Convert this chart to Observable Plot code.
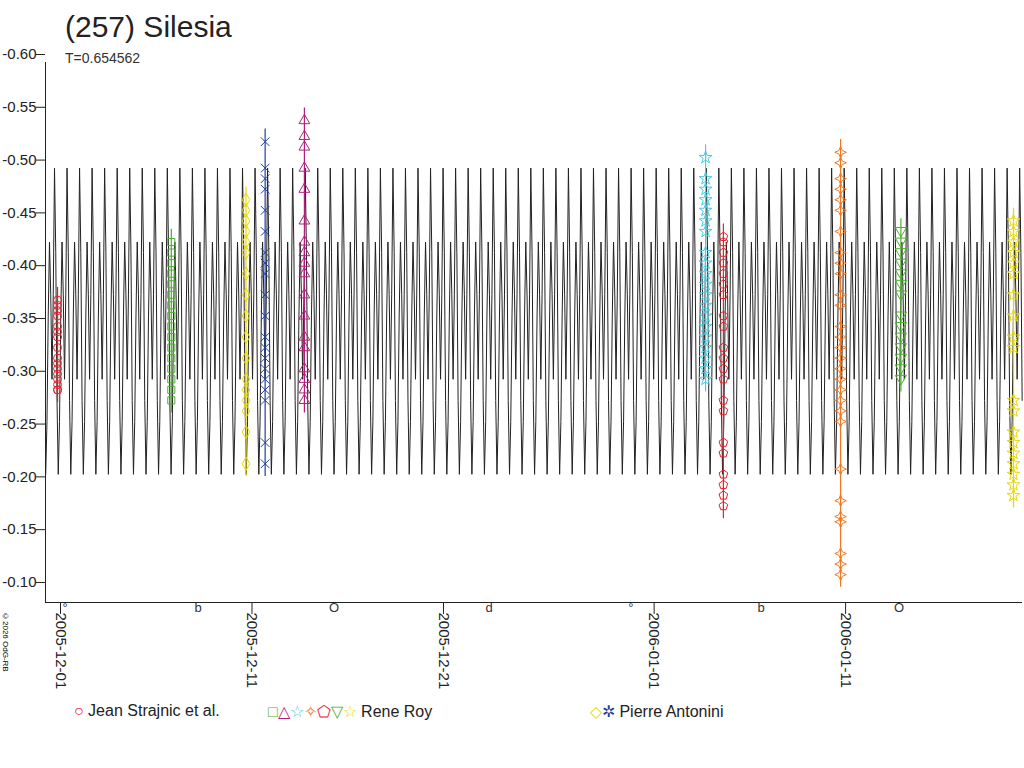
<!DOCTYPE html>
<html><head><meta charset="utf-8">
<script src="https://cdn.jsdelivr.net/npm/d3@7"></script>
<script src="https://cdn.jsdelivr.net/npm/@observablehq/plot@0.6"></script>
<style>
body{margin:0;background:#fff;font-family:"Liberation Sans",Arial,sans-serif;}
#wrap{position:relative;width:1024px;height:768px;}
#title{position:absolute;left:65px;top:10px;font-size:30px;color:#222;}
#sub{position:absolute;left:65px;top:50px;font-size:14px;color:#333;}
#legend{position:absolute;left:0;top:702px;font-size:16px;color:#222;width:1024px;}
#legend span.it{position:absolute;top:0;white-space:nowrap;}
#copy{position:absolute;left:1px;top:612px;writing-mode:vertical-rl;font-size:8px;color:#000;}
</style></head><body>
<div id="wrap"><div id="chart"></div>
<div id="title">(257) Silesia</div><div id="sub">T=0.654562</div>
<div id="copy">©2026 OdG-RB</div>
<div id="legend">
<span class="it" style="left:74px"><span style="color:#e8202a">○</span> Jean Strajnic et al.</span>
<span class="it" style="left:268px"><span style="color:#4caf2f">□</span><span style="color:#b0207a">△</span><span style="color:#50c8e0">☆</span><span style="color:#f07820">✧</span><span style="color:#e8202a">⬠</span><span style="color:#4caf2f">▽</span><span style="color:#e8d800">☆</span> Rene Roy</span>
<span class="it" style="left:590px"><span style="color:#e8d800">◇</span><span style="color:#2040a0">✲</span> Pierre Antonini</span>
</div></div>
<script>
const start = new Date("2005-12-01T00:00:00Z");
const period = 0.654562; // days
// one-period model light-curve profile
const profile = [-0.50,-0.42,-0.28,-0.21,-0.26,-0.36,-0.43,-0.38,-0.30,-0.38,-0.50];
const xStart = -0.47, xEnd = 50.55;
const yTicks = [-0.60,-0.55,-0.50,-0.45,-0.40,-0.35,-0.30,-0.25,-0.20,-0.15,-0.10];
const xTicks = ["2005-12-01","2005-12-11","2005-12-21","2006-01-01","2006-01-11"];
const moonDays = [0.55,7.5,14.6,22.7,30.1,36.9,44.1];
const moonGlyphs = ["°","b","O","d","°","b","O"];

const seriesNames = ["jean","rr_sq","pa_dia","pa_x","rr_tri","rr_star","rr_pent","rr_4star","rr_dtri","rr_ystar"];
const seriesDays = [0.16,6.1,10.0,11.0,13.05,34.0,34.93,41.05,44.2,50.08];
const seriesColors = ["#e8202a","#4caf2f","#e8d800","#2040a0","#b0207a","#50c8e0","#e8202a","#f07820","#4caf2f","#e8d800"];
const seriesSymbols = ["circle","square","diamond","times","triangle","star","pentagon","star4","dtri","star"];
const seriesMags = [
 [-0.375,-0.37,-0.365,-0.36,-0.35,-0.345,-0.34,-0.33,-0.32,-0.315,-0.31,-0.305,-0.30,-0.295,-0.29,-0.29],
 [-0.43,-0.42,-0.41,-0.40,-0.39,-0.38,-0.37,-0.36,-0.35,-0.34,-0.33,-0.32,-0.31,-0.30,-0.29,-0.28],
 [-0.47,-0.46,-0.45,-0.44,-0.43,-0.42,-0.40,-0.38,-0.36,-0.34,-0.32,-0.30,-0.29,-0.28,-0.27,-0.25,-0.22],
 [-0.525,-0.50,-0.49,-0.48,-0.46,-0.44,-0.42,-0.41,-0.40,-0.38,-0.36,-0.34,-0.33,-0.32,-0.31,-0.30,-0.29,-0.28,-0.24,-0.22],
 [-0.545,-0.53,-0.52,-0.50,-0.48,-0.45,-0.43,-0.42,-0.41,-0.40,-0.38,-0.36,-0.34,-0.33,-0.31,-0.30,-0.29,-0.28],
 [-0.51,-0.49,-0.48,-0.47,-0.46,-0.45,-0.44,-0.42,-0.41,-0.40,-0.39,-0.38,-0.37,-0.36,-0.35,-0.34,-0.33,-0.32,-0.31,-0.30],
 [-0.435,-0.43,-0.42,-0.41,-0.40,-0.39,-0.38,-0.36,-0.35,-0.33,-0.32,-0.31,-0.30,-0.28,-0.27,-0.24,-0.23,-0.21,-0.20,-0.19,-0.18],
 [-0.515,-0.505,-0.49,-0.48,-0.47,-0.46,-0.44,-0.42,-0.41,-0.40,-0.38,-0.37,-0.35,-0.34,-0.33,-0.32,-0.31,-0.30,-0.29,-0.28,-0.27,-0.26,-0.215,-0.185,-0.17,-0.165,-0.135,-0.125,-0.115],
 [-0.44,-0.43,-0.42,-0.41,-0.40,-0.39,-0.38,-0.36,-0.35,-0.34,-0.33,-0.32,-0.31,-0.30],
 [-0.45,-0.44,-0.43,-0.42,-0.41,-0.40,-0.38,-0.36,-0.34,-0.33,-0.28,-0.27,-0.25,-0.24,-0.23,-0.22,-0.21,-0.20,-0.19]
];

const day = d => new Date(start.getTime() + d*86400000);
const curve = [];
const steps = profile.length - 1;
for (let c = Math.floor(xStart/period); c*period < xEnd; c++) {
  for (let k = 0; k < steps; k++) {
    const d = (c + k/steps) * period;
    if (d >= xStart && d <= xEnd) curve.push({t: day(d), m: profile[k]});
  }
}
const symbolMap = {
  pentagon: {draw(ctx,size){const r=Math.sqrt(size/2.4);for(let i=0;i<5;i++){const a=-Math.PI/2+i*2*Math.PI/5;i?ctx.lineTo(r*Math.cos(a),r*Math.sin(a)):ctx.moveTo(r*Math.cos(a),r*Math.sin(a));}ctx.closePath();}},
  star4: {draw(ctx,size){const r=Math.sqrt(size/1.5),q=r*0.3;ctx.moveTo(0,-r);ctx.lineTo(q,-q);ctx.lineTo(r,0);ctx.lineTo(q,q);ctx.lineTo(0,r);ctx.lineTo(-q,q);ctx.lineTo(-r,0);ctx.lineTo(-q,-q);ctx.closePath();}},
  dtri: {draw(ctx,size){const r=Math.sqrt(size/1.6);ctx.moveTo(-r,-r*0.7);ctx.lineTo(r,-r*0.7);ctx.lineTo(0,r);ctx.closePath();}}
};
const pts = [], bars = [];
seriesNames.forEach((n,i)=>{
  const mags = seriesMags[i];
  mags.forEach(m=>pts.push({t:day(seriesDays[i]), m, c:seriesColors[i], s:symbolMap[seriesSymbols[i]]||seriesSymbols[i]}));
  bars.push({t:day(seriesDays[i]), y1:d3.min(mags)-0.012, y2:d3.max(mags)+0.012, c:seriesColors[i]});
});
const fmt = v => d3.format(".2f")(v).replace("−","-");
const chart = Plot.plot({
  width:1024, height:768,
  marginLeft:45, marginRight:2, marginTop:62, marginBottom:166,
  style:{fontFamily:"Liberation Sans, Arial, sans-serif", fontSize:"15px", color:"#222"},
  x:{type:"utc", domain:[day(xStart), day(xEnd)], label:null},
  y:{domain:[-0.60,-0.0886], reverse:true, label:null},
  marks:[
    Plot.line(curve,{x:"t",y:"m",stroke:"#222",strokeWidth:1}),
    Plot.ruleX(bars,{x:"t",y1:"y1",y2:"y2",stroke:"c",strokeWidth:1.2}),
    Plot.dot(pts,{x:"t",y:"m",stroke:"c",symbol:"s",r:4,strokeWidth:1,fill:"none"}),
    Plot.ruleX([day(xStart)],{stroke:"#222"}),
    Plot.ruleY([-0.0886],{stroke:"#222"}),
    Plot.axisY({ticks:yTicks, tickFormat:fmt, tickSize:9, tickPadding:0, dy:-8, fontSize:15, anchor:"left", label:null}),
    Plot.axisX({ticks:xTicks.map(s=>new Date(s+"T00:00:00Z")), tickFormat:d3.utcFormat("%Y-%m-%d"), tickSize:12, tickRotate:90, tickPadding:-2, dx:6, fontSize:15, label:null}),
    Plot.text(moonDays.map((d,i)=>({t:day(d),g:moonGlyphs[i]})),{x:"t",text:"g",frameAnchor:"bottom",dy:9,fontSize:13,fill:"#333"})
  ]
});
document.getElementById("chart").appendChild(chart);
</script></body></html>
